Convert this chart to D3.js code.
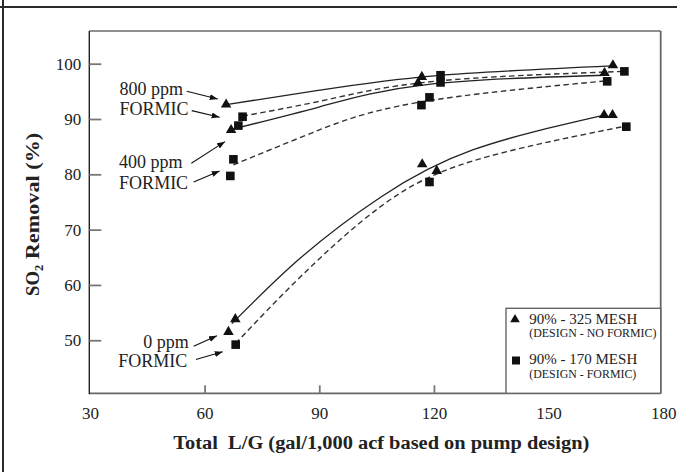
<!DOCTYPE html>
<html>
<head>
<meta charset="utf-8">
<script src="https://cdn.jsdelivr.net/npm/d3@7"></script>
<style>
  body { margin: 0; background: #fff; }
  svg { display: block; }
</style>
</head>
<body>
<svg id="chart" width="677" height="472"></svg>
<script>
// tick values
const xTicks = [30, 60, 90, 120, 150, 180];
const yTicks = [50, 60, 70, 80, 90, 100];

// measured points [L/G, SO2 removal %]
const tri800 = [[65.5, 92.7], [116.7, 97.7], [166.7, 99.8]];
const tri400 = [[66.8, 88.1], [115.7, 96.6], [164.5, 98.4]];
const tri0 = [[66.1, 51.6], [67.9, 53.9], [116.8, 81.9], [120.6, 80.7], [164.4, 90.8], [166.6, 90.8]];
const sq800 = [[69.8, 90.5], [68.7, 88.9], [121.6, 98.0], [121.6, 96.7], [169.7, 98.7]];
const sq400 = [[66.6, 79.8], [67.4, 82.8], [116.6, 92.6], [118.7, 94.0], [165.2, 96.9]];
const sq0 = [[68.0, 49.3], [118.7, 78.7], [170.2, 88.7]];

// fitted curves
const fit800tri = [[65.5, 92.7], [90, 95.3], [120, 97.9], [166.5, 99.7]];
const fit800sq = [[69.8, 90.6], [92, 93.6], [120, 96.9], [169.7, 98.7]];
const fit400tri = [[66.8, 88.2], [90, 92.3], [118, 96.3], [164.5, 98.0]];
const fit400sq = [[67.4, 81.8], [88, 87.6], [115, 93.0], [165.2, 97.0]];
const fit0tri = [[67.0, 53.1], [85, 65.0], [106, 76.0], [130, 84.5], [164.4, 90.8]];
const fit0sq = [[68.0, 49.5], [85, 61.6], [105.8, 74.2], [130, 82.5], [170, 88.8]];

// annotation labels [x, y, text] and arrows [x1, y1, x2, y2] in data units
const labels = [
  [37.6, 94.4, "800 ppm"], [37.6, 90.8, "FORMIC"],
  [37.5, 81.2, "400 ppm"], [37.5, 77.5, "FORMIC"],
  [43.8, 48.7, "0 ppm"], [37.3, 45.2, "FORMIC"]
];
const arrows = [
  [55.2, 95.1, 63.3, 93.7], [56.5, 91.6, 63.8, 90.4],
  [56.4, 82.1, 65.2, 86.0], [57.0, 78.7, 63.8, 80.7],
  [57.0, 49.0, 63.1, 50.9], [57.6, 46.6, 64.6, 48.0]
];

const svg = d3.select("#chart")
  .attr("font-family", "'Liberation Serif', 'Times New Roman', Times, 'DejaVu Serif', serif");
const pLeft = 89.3, pRight = 660.7, pTop = 31, pBottom = 393.3;

const x = d3.scaleLinear([29.7, 179.2], [pLeft, pRight]);
const y = d3.scaleLinear([40.5, 106], [pBottom, pTop]);

// page frame
svg.append("line").attr("x1", 0).attr("x2", 677).attr("y1", 7).attr("y2", 7)
  .attr("stroke", "#2a2a2a").attr("stroke-width", 2.2);
svg.append("line").attr("x1", 3).attr("x2", 3).attr("y1", 0).attr("y2", 472)
  .attr("stroke", "#2a2a2a").attr("stroke-width", 2);

// plot box
svg.append("line").attr("x1", pLeft).attr("x2", pRight).attr("y1", pTop).attr("y2", pTop)
  .attr("stroke", "#222").attr("stroke-width", 1.2);
svg.append("line").attr("x1", pRight).attr("x2", pRight).attr("y1", pTop).attr("y2", pBottom)
  .attr("stroke", "#666").attr("stroke-width", 1.8);
svg.append("line").attr("x1", pLeft).attr("x2", pRight).attr("y1", pBottom).attr("y2", pBottom)
  .attr("stroke", "#666").attr("stroke-width", 1.8);
svg.append("line").attr("x1", pLeft).attr("x2", pLeft).attr("y1", pTop).attr("y2", pBottom + 1)
  .attr("stroke", "#222").attr("stroke-width", 1.4);

// ticks
svg.append("g").selectAll("line").data(yTicks).join("line")
  .attr("x1", pLeft).attr("x2", pLeft + 12)
  .attr("y1", d => y(d)).attr("y2", d => y(d))
  .attr("stroke", "#777").attr("stroke-width", 1.8);
svg.append("g").selectAll("line").data(xTicks.slice(1, -1)).join("line")
  .attr("x1", d => x(d)).attr("x2", d => x(d))
  .attr("y1", pBottom).attr("y2", pBottom - 8)
  .attr("stroke", "#777").attr("stroke-width", 1.8);

svg.append("g").selectAll("text").data(yTicks).join("text")
  .attr("x", pLeft - 8).attr("y", d => y(d)).attr("dy", "0.33em")
  .attr("text-anchor", "end").attr("font-size", 17).attr("fill", "#222")
  .text(d => d);
svg.append("g").selectAll("text").data(xTicks).join("text")
  .attr("x", d => x(d)).attr("y", 419)
  .attr("text-anchor", "middle").attr("font-size", 17).attr("fill", "#222")
  .text(d => d);

// axis titles (the scan's lettering is wider than Times, so stretch it)
svg.append("text")
  .attr("x", 173.3).attr("y", 449)
  .attr("font-size", 18).attr("font-weight", "bold").attr("fill", "#222")
  .attr("xml:space", "preserve")
  .attr("textLength", 416).attr("lengthAdjust", "spacingAndGlyphs")
  .text("Total  L/G (gal/1,000 acf based on pump design)");

const ylab = svg.append("text")
  .attr("transform", `translate(39,296) rotate(-90)`)
  .attr("font-size", 18.5).attr("font-weight", "bold").attr("fill", "#222");
ylab.append("tspan").attr("textLength", 25).attr("lengthAdjust", "spacingAndGlyphs").text("SO");
ylab.append("tspan").attr("dy", 4).attr("font-size", 12.5).text("2");
ylab.append("tspan").attr("dy", -4).attr("xml:space", "preserve")
  .attr("textLength", 132).attr("lengthAdjust", "spacingAndGlyphs").text(" Removal (%)");

// curves
const line = d3.line().x(d => x(d[0])).y(d => y(d[1])).curve(d3.curveNatural);
const curves = [
  [fit800tri, false], [fit800sq, true],
  [fit400tri, false], [fit400sq, true],
  [fit0tri, false], [fit0sq, true]
];
svg.append("g").selectAll("path").data(curves).join("path")
  .attr("d", d => line(d[0]))
  .attr("fill", "none")
  .attr("stroke", d => d[1] ? "#333" : "#222")
  .attr("stroke-width", d => d[1] ? 1.4 : 1.3)
  .attr("stroke-dasharray", d => d[1] ? "5.5,3.5" : null);

// markers
const tri = d3.symbol(d3.symbolTriangle, 48);
svg.append("g").selectAll("path").data([...tri800, ...tri400, ...tri0]).join("path")
  .attr("transform", d => `translate(${x(d[0])},${y(d[1])})`)
  .attr("d", tri).attr("fill", "#111");
svg.append("g").selectAll("rect").data([...sq800, ...sq400, ...sq0]).join("rect")
  .attr("x", d => x(d[0]) - 4.3).attr("y", d => y(d[1]) - 4.3)
  .attr("width", 8.6).attr("height", 8.6).attr("fill", "#111");

// annotations
svg.append("defs").append("marker")
  .attr("id", "head").attr("markerUnits", "userSpaceOnUse")
  .attr("markerWidth", 9).attr("markerHeight", 7)
  .attr("refX", 8).attr("refY", 3).attr("orient", "auto")
  .append("path").attr("d", "M0,0L8,3L0,6Z").attr("fill", "#111");

svg.append("g").selectAll("line").data(arrows).join("line")
  .attr("x1", d => x(d[0])).attr("y1", d => y(d[1]))
  .attr("x2", d => x(d[2])).attr("y2", d => y(d[3]))
  .attr("stroke", "#111").attr("stroke-width", 1.1)
  .attr("marker-end", "url(#head)");

svg.append("g").selectAll("text").data(labels).join("text")
  .attr("x", d => x(d[0])).attr("y", d => y(d[1]))
  .attr("font-size", 18).attr("fill", "#222")
  .text(d => d[2]);

// legend
const lg = svg.append("g");
lg.append("rect").attr("x", 506).attr("y", 308.3)
  .attr("width", pRight - 506).attr("height", pBottom - 308.3)
  .attr("fill", "#fff").attr("stroke", "#666").attr("stroke-width", 1.4);
lg.append("path").attr("transform", "translate(515,319.5)")
  .attr("d", d3.symbol(d3.symbolTriangle, 40)).attr("fill", "#111");
lg.append("rect").attr("x", 512).attr("y", 356.5).attr("width", 8).attr("height", 8).attr("fill", "#111");
const legendText = [
  [323.5, 15, "90% - 325 MESH"], [337.3, 11.9, "(DESIGN - NO FORMIC)"],
  [364, 15, "90% - 170 MESH"], [378.3, 11.9, "(DESIGN - FORMIC)"]
];
lg.selectAll("text").data(legendText).join("text")
  .attr("x", 529.3).attr("y", d => d[0])
  .attr("font-size", d => d[1]).attr("fill", "#222")
  .text(d => d[2]);
</script>
</body>
</html>
